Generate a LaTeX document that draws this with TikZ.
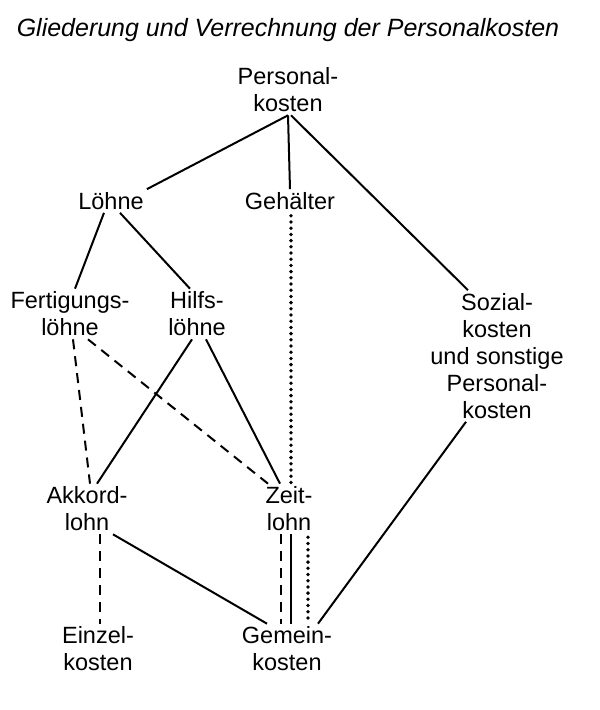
\documentclass[tikz,border=0pt]{standalone}
\usepackage{fontspec}
\setmainfont{Liberation Sans}
\usepackage{tikz}
\usetikzlibrary{positioning,calc}

\begin{document}
\begin{tikzpicture}[
  x=1pt, y=-1pt,
  item/.style={align=center, inner sep=3pt, font=\fontsize{23.5}{27}\selectfont},
  heading/.style={font=\fontsize{25}{30}\selectfont\itshape},
  line/.style={line width=2pt},
  dashline/.style={line width=2pt, dash pattern=on 10pt off 7pt},
  dotline/.style={line width=3.8pt, line cap=round, dash pattern=on 0pt off 6.2pt}
]
\useasboundingbox (0,0) rectangle (600,710);

% Titel
\node[heading] (title) at (288,30) {Gliederung und Verrechnung der Personalkosten};

% Kostenarten
\node[item] (pk)     at (288,90)  {Personal-\\kosten};
\node[item] (loehne) at (111,201) {Löhne};
\node[item] (gehalt) at (290,201) {Gehälter};
\node[item] (fert)   at (70,314)  {Fertigungs-\\löhne};
\node[item] (hilfs)  at (197,314) {Hilfs-\\löhne};
\node[item] (sozial) at (497,356) {Sozial-\\kosten\\und sonstige\\Personal-\\kosten};
\node[item] (akkord) at (87,509)  {Akkord-\\lohn};
\node[item] (zeit)   at (289,509) {Zeit-\\lohn};
\node[item] (einzel) at (98,649)  {Einzel-\\kosten};
\node[item] (gemein) at (287,649) {Gemein-\\kosten};

% Gliederung
\draw[line] (pk.south) -- (loehne.north east);
\draw[line] (pk.south) -- (gehalt.north);
\draw[line] ([xshift=3]pk.south) -- ([xshift=-29]sozial.north);
\draw[line] ([xshift=-7]loehne.south) -- ([xshift=5]fert.north);
\draw[line] ([xshift=9]loehne.south) -- ([xshift=-7]hilfs.north);

% Verrechnung
\draw[dotline] ([xshift=1,yshift=-3]gehalt.south) -- ([xshift=2]zeit.north);
\draw[dashline] ([xshift=3]fert.south) -- ([xshift=3]akkord.north);
\draw[dashline] ([xshift=18]fert.south) -- ([xshift=-21]zeit.north);
\draw[line] ([xshift=-5]hilfs.south) -- ([xshift=10]akkord.north);
\draw[line] ([xshift=9]hilfs.south) -- ([xshift=-9]zeit.north);
\draw[line] ([xshift=26]akkord.south) -- ([xshift=-20]gemein.north);
\draw[dashline] ([xshift=13]akkord.south) -- ([xshift=2]einzel.north);
\draw[dashline] ([xshift=-8]zeit.south) -- ([xshift=-6]gemein.north);
\draw[line] ([xshift=2]zeit.south) -- ([xshift=4]gemein.north);
\draw[dotline] ([xshift=19,yshift=-3]zeit.south) -- ([xshift=21]gemein.north);
\draw[line] ([xshift=-31]sozial.south) -- ([xshift=31]gemein.north);
\end{tikzpicture}
\end{document}
